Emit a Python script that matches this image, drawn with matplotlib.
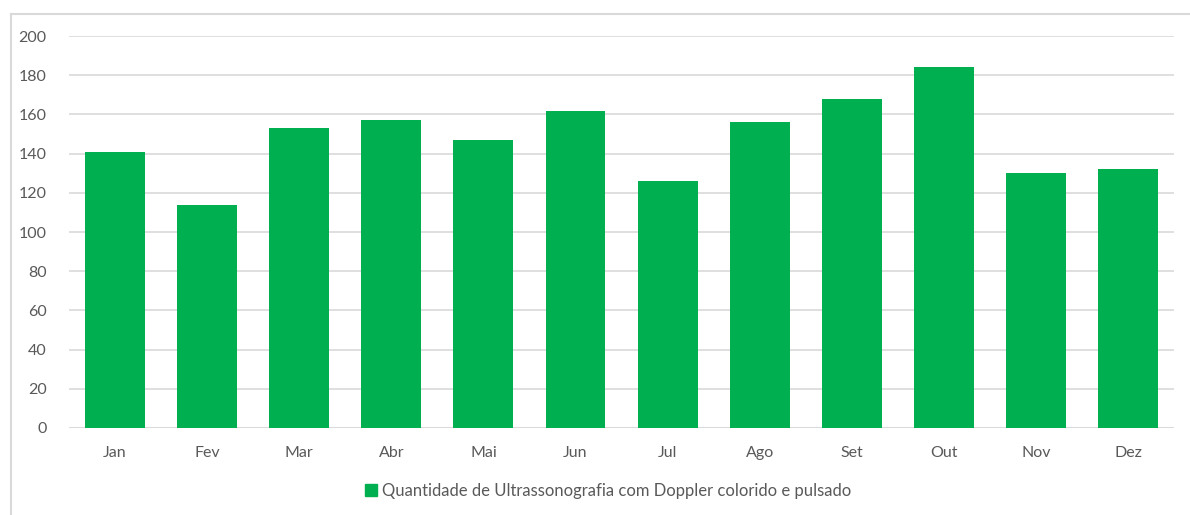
import matplotlib.pyplot as plt
import numpy as np
from matplotlib.patches import Patch
from matplotlib.lines import Line2D

plt.rcParams['font.family'] = ['Lato', 'DejaVu Sans']

meses = ['Jan', 'Fev', 'Mar', 'Abr', 'Mai', 'Jun', 'Jul', 'Ago', 'Set', 'Out', 'Nov', 'Dez']
quantidade = [141, 114, 153, 157, 147, 162, 126, 156, 168, 184, 130, 132]
serie = 'Quantidade de Ultrassonografia com Doppler colorido e pulsado'

verde = '#00b050'
texto = '#595959'
grade = '#d9d9d9'

fig = plt.figure(figsize=(11.9, 5.15), dpi=100)
ax = fig.add_axes([0.058, 0.169, 0.9286, 0.761])

x = np.arange(len(meses))
ax.bar(x, quantidade, width=0.65, color=verde, zorder=3)

ax.set_xlim(-0.5, len(meses) - 0.5)
ax.set_ylim(0, 200)
ax.set_yticks(np.arange(0, 201, 20))
ax.set_xticks(x)
ax.set_xticklabels(meses)
ax.yaxis.grid(True, color=grade, linewidth=1.2, zorder=0)
for s in ax.spines.values():
    s.set_visible(False)
ax.axhline(0, color=grade, linewidth=1.2, zorder=1)
ax.tick_params(length=0, colors=texto, labelsize=11.5)
ax.tick_params(axis='x', pad=13)
ax.tick_params(axis='y', pad=16)

# moldura do gráfico (só topo e esquerda aparecem)
fig.add_artist(Line2D([11 / 1190, 1.0], [1 - 14 / 515] * 2, color=grade, linewidth=1.5))
fig.add_artist(Line2D([11 / 1190] * 2, [0, 1 - 14 / 515], color=grade, linewidth=1.5))

fig.legend(handles=[Patch(color=verde, label=serie)], loc='center',
           bbox_to_anchor=(608 / 1190, 1 - 491 / 515), frameon=False,
           fontsize=12, labelcolor=texto, handlelength=0.7, handleheight=0.7,
           handletextpad=0.3)

fig.savefig('out.png', dpi=100)
